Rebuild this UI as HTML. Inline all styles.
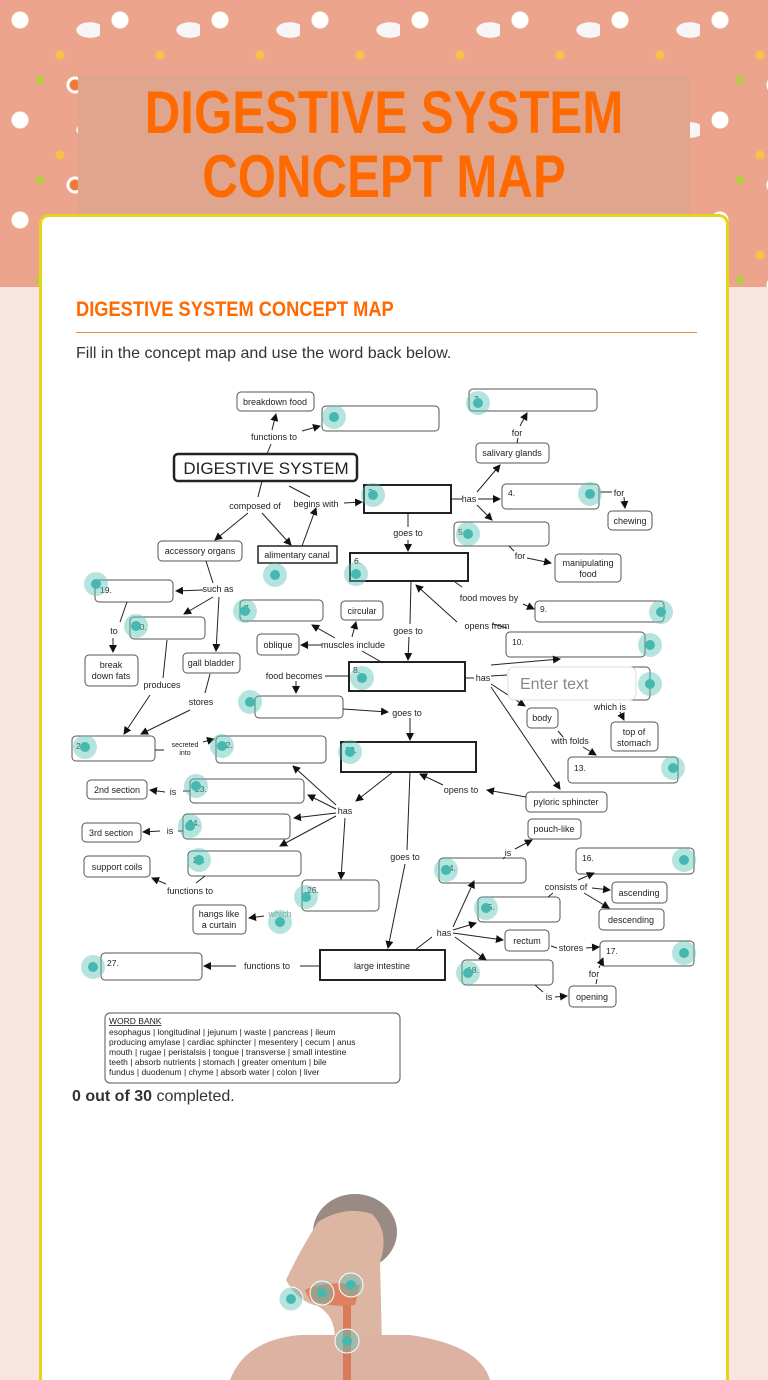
<!DOCTYPE html>
<html><head><meta charset="utf-8"><style>
*{margin:0;padding:0;box-sizing:border-box}
html,body{width:768px;height:1380px;overflow:hidden}
body{position:relative;background:#f8e5df;font-family:"Liberation Sans",sans-serif}
.pat{position:absolute;left:0;top:0;width:768px;height:287px;background-color:#eca48d;
background-image:radial-gradient(circle at 20px 20px,#fff 0 8px,transparent 9px),radial-gradient(circle at 60px 55px,#f4c24a 0 4px,transparent 5px),radial-gradient(ellipse 14px 8px at 90px 30px,#f6f6f6 0 95%,transparent 100%),radial-gradient(circle at 40px 80px,#b9c94a 0 4px,transparent 5px),radial-gradient(circle at 75px 85px,#ee7b3a 0 5px,#fff 6px 8px,transparent 9px);
background-size:100px 100px}
.title{position:absolute;left:78px;top:75px;width:612px;height:140px;background:#dfa68d}
.tt{position:absolute;left:0;width:612px;text-align:center;color:#ff6a00;font:bold 60px/64px "Liberation Sans Narrow","Liberation Sans",sans-serif;transform:scaleX(0.82);transform-origin:center}
.card{position:absolute;left:39px;top:214px;width:690px;height:1166px;background:#fff;border:3px solid #e3d61a;border-bottom:none;border-radius:10px 10px 0 0}
.h{position:absolute;left:76px;top:298px;color:#ff6a00;font:bold 21px "Liberation Sans Narrow","Liberation Sans",sans-serif;transform:scaleX(0.87);transform-origin:left}
.rule{position:absolute;left:76px;top:332px;width:621px;height:1px;background:#f08a3a}
.p{position:absolute;left:76px;top:345px;font-size:16px;color:#333}
.done{position:absolute;left:72px;top:1088px;font-size:16px;color:#333}
</style></head><body>
<div class="pat"></div>
<div class="title"><div class="tt" style="top:6px">DIGESTIVE SYSTEM</div><div class="tt" style="top:70px">CONCEPT MAP</div></div>
<div class="card"></div>
<div class="h">DIGESTIVE SYSTEM CONCEPT MAP</div>
<div class="rule"></div>
<div class="p">Fill in the concept map and use the word back below.</div>
<svg style="position:absolute;left:0;top:0" width="768" height="1380" viewBox="0 0 768 1380" font-family="Liberation Sans,sans-serif" font-size="9" fill="#222">
<defs><marker id="a" markerWidth="8" markerHeight="8" refX="7" refY="4" orient="auto" markerUnits="userSpaceOnUse"><path d="M0,0 L8,4 L0,8z" fill="#111"/></marker></defs>
<g fill="#fff" stroke="#555" stroke-width="1">
<rect x="237" y="392" width="77" height="19" rx="4"/><rect x="322" y="406" width="117" height="25" rx="4"/>
<rect x="469" y="389" width="128" height="22" rx="4"/><rect x="476" y="443" width="73" height="20" rx="4"/>
<rect x="502" y="484" width="97" height="25" rx="4"/><rect x="608" y="511" width="44" height="19" rx="4"/>
<rect x="454" y="522" width="95" height="24" rx="4"/><rect x="555" y="554" width="66" height="28" rx="4"/>
<rect x="158" y="541" width="84" height="20" rx="4"/><rect x="95" y="580" width="78" height="22" rx="4"/>
<rect x="240" y="600" width="83" height="21" rx="4"/><rect x="341" y="601" width="42" height="19" rx="4"/>
<rect x="535" y="601" width="129" height="21" rx="4"/><rect x="130" y="617" width="75" height="22" rx="4"/>
<rect x="257" y="634" width="42" height="21" rx="4"/><rect x="506" y="632" width="139" height="25" rx="4"/>
<rect x="85" y="655" width="53" height="31" rx="4"/><rect x="183" y="653" width="57" height="20" rx="4"/>
<rect x="255" y="696" width="88" height="22" rx="4"/><rect x="527" y="708" width="31" height="20" rx="4"/>
<rect x="611" y="722" width="47" height="29" rx="4"/><rect x="72" y="736" width="83" height="25" rx="4"/>
<rect x="216" y="736" width="110" height="27" rx="4"/><rect x="568" y="757" width="110" height="26" rx="4"/>
<rect x="87" y="780" width="60" height="19" rx="4"/><rect x="190" y="779" width="114" height="24" rx="4"/>
<rect x="526" y="792" width="81" height="20" rx="4"/><rect x="82" y="823" width="59" height="19" rx="4"/>
<rect x="183" y="814" width="107" height="25" rx="4"/><rect x="528" y="819" width="53" height="20" rx="4"/>
<rect x="84" y="856" width="66" height="21" rx="4"/><rect x="188" y="851" width="113" height="25" rx="4"/>
<rect x="576" y="848" width="118" height="26" rx="4"/><rect x="439" y="858" width="87" height="25" rx="4"/>
<rect x="612" y="882" width="55" height="21" rx="4"/><rect x="302" y="880" width="77" height="31" rx="4"/>
<rect x="193" y="905" width="53" height="29" rx="4"/><rect x="478" y="897" width="82" height="25" rx="4"/>
<rect x="599" y="909" width="65" height="21" rx="4"/><rect x="505" y="930" width="44" height="21" rx="4"/>
<rect x="600" y="941" width="94" height="25" rx="4"/><rect x="101" y="953" width="101" height="27" rx="4"/>
<rect x="462" y="960" width="91" height="25" rx="4"/><rect x="569" y="986" width="47" height="21" rx="4"/>
<rect x="105" y="1013" width="295" height="70" rx="5"/><rect x="600" y="667" width="50" height="33" rx="4"/>
</g>
<g fill="#fff" stroke="#222" stroke-width="2">
<rect x="174" y="454" width="183" height="27" rx="4" stroke-width="2.5"/>
<rect x="364" y="485" width="87" height="28"/><rect x="258" y="546" width="79" height="17" stroke-width="1.5"/>
<rect x="350" y="553" width="118" height="28"/><rect x="349" y="662" width="116" height="29"/>
<rect x="341" y="742" width="135" height="30"/><rect x="320" y="950" width="125" height="30"/>
</g>
<g stroke="#222" stroke-width="1" fill="none">
<path d="M267 454L271 444"/><path d="M272 430L276 414" marker-end="url(#a)"/><path d="M302 431L320 426" marker-end="url(#a)"/>
<path d="M517 443L518 438"/><path d="M520 426L527 413" marker-end="url(#a)"/>
<path d="M262 481L258 497"/><path d="M248 513L215 540" marker-end="url(#a)"/><path d="M262 513L291 545" marker-end="url(#a)"/>
<path d="M289 486L310 497"/><path d="M344 503L362 502" marker-end="url(#a)"/><path d="M302 546L316 508" marker-end="url(#a)"/>
<path d="M451 499L462 499"/><path d="M478 499L500 499" marker-end="url(#a)"/><path d="M477 492L500 465" marker-end="url(#a)"/><path d="M477 505L492 520" marker-end="url(#a)"/>
<path d="M600 492L612 492"/><path d="M624 497L625 508" marker-end="url(#a)"/>
<path d="M509 546L514 551"/><path d="M527 558L551 563" marker-end="url(#a)"/>
<path d="M408 513L408 527"/><path d="M408 540L408 551" marker-end="url(#a)"/>
<path d="M206 561L213 583"/><path d="M203 590L176 591" marker-end="url(#a)"/><path d="M213 597L184 614" marker-end="url(#a)"/><path d="M219 597L216 651" marker-end="url(#a)"/>
<path d="M127 602L120 622"/><path d="M113 638L113 652" marker-end="url(#a)"/>
<path d="M167 640L163 678"/><path d="M150 695L124 734" marker-end="url(#a)"/>
<path d="M210 674L205 693"/><path d="M190 710L141 734" marker-end="url(#a)"/>
<path d="M411 581L410 624"/><path d="M409 637L408 660" marker-end="url(#a)"/>
<path d="M457 622L416 585" marker-end="url(#a)"/><path d="M493 624L507 628"/>
<path d="M455 582L462 587"/><path d="M523 604L534 609" marker-end="url(#a)"/>
<path d="M322 645L301 645" marker-end="url(#a)"/><path d="M352 637L356 622" marker-end="url(#a)"/><path d="M335 638L312 625" marker-end="url(#a)"/><path d="M362 651L383 663"/>
<path d="M325 676L349 676"/><path d="M296 681L296 693" marker-end="url(#a)"/>
<path d="M465 678L474 678"/><path d="M491 676L507 675"/><path d="M491 665L560 659" marker-end="url(#a)"/><path d="M491 684L525 706" marker-end="url(#a)"/><path d="M491 687L560 789" marker-end="url(#a)"/>
<path d="M620 712L624 720" marker-end="url(#a)"/>
<path d="M558 731L563 737"/><path d="M583 747L596 755" marker-end="url(#a)"/>
<path d="M343 709L388 712" marker-end="url(#a)"/><path d="M410 718L410 740" marker-end="url(#a)"/>
<path d="M155 750L164 750"/><path d="M203 742L214 739" marker-end="url(#a)"/>
<path d="M393 772L356 801" marker-end="url(#a)"/>
<path d="M336 805L293 766" marker-end="url(#a)"/><path d="M336 809L308 795" marker-end="url(#a)"/><path d="M336 813L294 818" marker-end="url(#a)"/><path d="M336 816L280 846" marker-end="url(#a)"/><path d="M345 818L341 879" marker-end="url(#a)"/>
<path d="M410 772L407 850"/><path d="M405 864L388 948" marker-end="url(#a)"/>
<path d="M526 797L487 790" marker-end="url(#a)"/><path d="M443 785L420 774" marker-end="url(#a)"/>
<path d="M190 791L183 791"/><path d="M165 792L150 790" marker-end="url(#a)"/>
<path d="M183 831L178 831"/><path d="M160 831L143 832" marker-end="url(#a)"/>
<path d="M205 876L196 883"/><path d="M166 884L152 878" marker-end="url(#a)"/>
<path d="M264 916L249 918" marker-end="url(#a)"/>
<path d="M320 966L300 966"/><path d="M236 966L204 966" marker-end="url(#a)"/>
<path d="M415 950L432 937"/><path d="M453 927L474 881" marker-end="url(#a)"/><path d="M453 930L476 923" marker-end="url(#a)"/><path d="M453 933L503 940" marker-end="url(#a)"/><path d="M455 937L486 960" marker-end="url(#a)"/>
<path d="M503 859L505 857"/><path d="M515 849L532 840" marker-end="url(#a)"/>
<path d="M548 897L553 893"/><path d="M578 880L594 873" marker-end="url(#a)"/><path d="M592 888L610 890" marker-end="url(#a)"/><path d="M584 893L609 908" marker-end="url(#a)"/>
<path d="M551 946L557 948"/><path d="M586 948L599 947" marker-end="url(#a)"/>
<path d="M596 984L597 979"/><path d="M599 968L603 958" marker-end="url(#a)"/>
<path d="M535 985L543 992"/><path d="M555 997L567 996" marker-end="url(#a)"/>
</g>
<g text-anchor="middle">
<text x="275" y="405">breakdown food</text><text x="274" y="440">functions to</text>
<text x="512" y="456">salivary glands</text><text x="517" y="436">for</text>
<text x="266" y="474" font-size="17">DIGESTIVE SYSTEM</text>
<text x="255" y="509">composed of</text><text x="316" y="507">begins with</text>
<text x="469" y="502">has</text><text x="619" y="496">for</text><text x="630" y="524">chewing</text>
<text x="520" y="559">for</text><text x="588" y="566">manipulating</text><text x="588" y="577">food</text>
<text x="408" y="536">goes to</text><text x="200" y="554">accessory organs</text><text x="297" y="558">alimentary canal</text>
<text x="218" y="592">such as</text><text x="114" y="634">to</text><text x="111" y="668">break</text><text x="111" y="679">down fats</text>
<text x="362" y="614">circular</text><text x="278" y="648">oblique</text><text x="353" y="648">muscles include</text>
<text x="408" y="634">goes to</text><text x="487" y="629">opens from</text><text x="489" y="601">food moves by</text>
<text x="211" y="666">gall bladder</text><text x="162" y="688">produces</text><text x="201" y="705">stores</text>
<text x="294" y="679">food becomes</text><text x="483" y="681">has</text>
<text x="542" y="721">body</text><text x="610" y="710">which is</text><text x="634" y="735">top of</text><text x="634" y="746">stomach</text>
<text x="570" y="744">with folds</text><text x="407" y="716">goes to</text>
<text x="185" y="747" font-size="7">secreted</text><text x="185" y="755" font-size="7">into</text>
<text x="117" y="793">2nd section</text><text x="173" y="795">is</text><text x="111" y="836">3rd section</text><text x="170" y="834">is</text>
<text x="345" y="814">has</text><text x="566" y="805">pyloric sphincter</text><text x="461" y="793">opens to</text>
<text x="554" y="832">pouch-like</text><text x="117" y="870">support coils</text><text x="190" y="894">functions to</text>
<text x="405" y="860">goes to</text><text x="508" y="856">is</text><text x="566" y="890">consists of</text>
<text x="639" y="896">ascending</text><text x="631" y="923">descending</text>
<text x="219" y="917">hangs like</text><text x="219" y="928">a curtain</text><text x="280" y="917" fill="#999">which</text>
<text x="444" y="936">has</text><text x="527" y="944">rectum</text><text x="571" y="951">stores</text><text x="594" y="977">for</text>
<text x="267" y="969">functions to</text><text x="382" y="969">large intestine</text><text x="549" y="1000">is</text><text x="592" y="1000">opening</text>
</g>
<g font-size="8.5">
<text x="474" y="402">2.</text><text x="368" y="495">3.</text><text x="508" y="496">4.</text><text x="458" y="535">5.</text>
<text x="354" y="564">6.</text><text x="100" y="593">19.</text><text x="244" y="611">7.</text><text x="540" y="612">9.</text>
<text x="135" y="630">20.</text><text x="512" y="645">10.</text><text x="353" y="673">8.</text><text x="345" y="753">12.</text>
<text x="221" y="748">22.</text><text x="574" y="771">13.</text><text x="195" y="792">23.</text><text x="188" y="826">24.</text>
<text x="193" y="863">25.</text><text x="582" y="861">16.</text><text x="444" y="871">14.</text><text x="307" y="893">26.</text>
<text x="483" y="910">15.</text><text x="606" y="954">17.</text><text x="107" y="966">27.</text><text x="467" y="973">18.</text>
<text x="76" y="749">21.</text>
<text x="109" y="1024" text-decoration="underline">WORD BANK</text>
<text x="109" y="1035">esophagus | longitudinal | jejunum | waste | pancreas | ileum</text>
<text x="109" y="1045">producing amylase | cardiac sphincter | mesentery | cecum | anus</text>
<text x="109" y="1055">mouth | rugae | peristalsis | tongue | transverse | small intestine</text>
<text x="109" y="1065">teeth | absorb nutrients | stomach | greater omentum | bile</text>
<text x="109" y="1075">fundus | duodenum | chyme | absorb water |  colon | liver</text>
</g>
<rect x="508" y="667" width="128" height="33" rx="6" fill="#fff" stroke="#ddd"/>
<text x="520" y="689" font-size="16" fill="#888">Enter text</text>
<g>
<ellipse cx="355" cy="1232" rx="42" ry="38" fill="#9a8a84"/>
<path d="M318 1222 Q300 1250 286 1280 Q298 1302 318 1306 Q338 1318 334 1345 L382 1345 L380 1262 Q390 1232 372 1214 Q345 1205 318 1222 Z" fill="#dcb5a3"/>
<path d="M230 1380 Q245 1340 300 1335 L410 1335 Q480 1345 490 1380 Z" fill="#dcb3a3"/>
<rect x="343" y="1290" width="8" height="90" fill="#d97a5a"/>
<path d="M305 1290 Q325 1280 360 1285 L355 1305 Q330 1308 310 1300 Z" fill="#e08060"/>
</g>
<g fill="rgba(90,195,185,0.45)" stroke="none">
<circle cx="334" cy="417" r="12"/><circle cx="478" cy="403" r="12"/><circle cx="373" cy="495" r="12"/><circle cx="590" cy="494" r="12"/>
<circle cx="468" cy="534" r="12"/><circle cx="275" cy="575" r="12"/><circle cx="356" cy="574" r="12"/><circle cx="96" cy="584" r="12"/>
<circle cx="245" cy="611" r="12"/><circle cx="661" cy="612" r="12"/><circle cx="136" cy="626" r="12"/><circle cx="650" cy="645" r="12"/>
<circle cx="362" cy="678" r="12"/><circle cx="650" cy="684" r="12"/><circle cx="250" cy="702" r="12"/><circle cx="85" cy="747" r="12"/>
<circle cx="222" cy="746" r="12"/><circle cx="350" cy="752" r="12"/><circle cx="673" cy="768" r="12"/><circle cx="196" cy="786" r="12"/>
<circle cx="190" cy="826" r="12"/><circle cx="199" cy="860" r="12"/><circle cx="684" cy="860" r="12"/><circle cx="446" cy="870" r="12"/>
<circle cx="306" cy="897" r="12"/><circle cx="280" cy="922" r="12"/><circle cx="486" cy="908" r="12"/><circle cx="684" cy="953" r="12"/>
<circle cx="93" cy="967" r="12"/><circle cx="468" cy="973" r="12"/>
<circle cx="291" cy="1299" r="12" stroke="#fff"/><circle cx="322" cy="1293" r="12" stroke="#fff"/><circle cx="351" cy="1285" r="12" stroke="#fff"/><circle cx="347" cy="1341" r="12" stroke="#fff"/>
</g>
<g fill="#45b9b0">
<circle cx="334" cy="417" r="5"/><circle cx="478" cy="403" r="5"/><circle cx="373" cy="495" r="5"/><circle cx="590" cy="494" r="5"/>
<circle cx="468" cy="534" r="5"/><circle cx="275" cy="575" r="5"/><circle cx="356" cy="574" r="5"/><circle cx="96" cy="584" r="5"/>
<circle cx="245" cy="611" r="5"/><circle cx="661" cy="612" r="5"/><circle cx="136" cy="626" r="5"/><circle cx="650" cy="645" r="5"/>
<circle cx="362" cy="678" r="5"/><circle cx="650" cy="684" r="5"/><circle cx="250" cy="702" r="5"/><circle cx="85" cy="747" r="5"/>
<circle cx="222" cy="746" r="5"/><circle cx="350" cy="752" r="5"/><circle cx="673" cy="768" r="5"/><circle cx="196" cy="786" r="5"/>
<circle cx="190" cy="826" r="5"/><circle cx="199" cy="860" r="5"/><circle cx="684" cy="860" r="5"/><circle cx="446" cy="870" r="5"/>
<circle cx="306" cy="897" r="5"/><circle cx="280" cy="922" r="5"/><circle cx="486" cy="908" r="5"/><circle cx="684" cy="953" r="5"/>
<circle cx="93" cy="967" r="5"/><circle cx="468" cy="973" r="5"/>
<circle cx="291" cy="1299" r="5"/><circle cx="322" cy="1293" r="5"/><circle cx="351" cy="1285" r="5"/><circle cx="347" cy="1341" r="5"/>
</g>
</svg>
<div class="done"><b>0 out of 30</b> completed.</div>
</body></html>
